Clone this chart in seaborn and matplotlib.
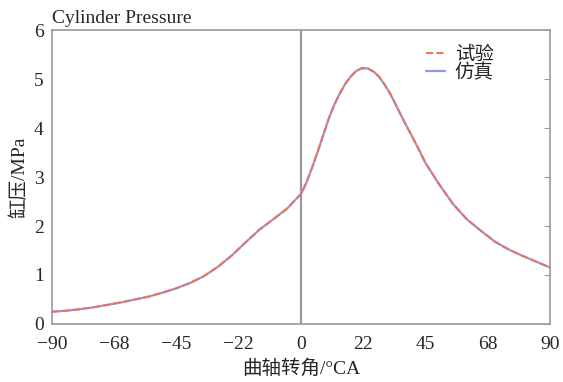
import matplotlib
matplotlib.use("Agg")
import matplotlib.pyplot as plt
import seaborn as sns
import pandas as pd

# Crank angle (deg CA) and cylinder pressure (MPa)
crank_angle = [-90, -85, -80, -75, -70, -65, -60, -55, -50, -45, -40, -35, -30,
               -25, -20, -15, -10, -5, 0, 2, 4, 6, 8, 10, 12, 14, 16, 18, 20,
               22, 24, 26, 28, 30, 32, 34, 36, 38, 40, 42, 45, 50, 55, 60, 65,
               70, 75, 80, 85, 90]
p_test = [0.25, 0.27, 0.30, 0.34, 0.39, 0.44, 0.50, 0.56, 0.64, 0.73, 0.84,
          0.98, 1.17, 1.40, 1.67, 1.93, 2.14, 2.36, 2.66, 2.90, 3.20, 3.52,
          3.86, 4.20, 4.48, 4.71, 4.91, 5.06, 5.17, 5.23, 5.22, 5.16, 5.06,
          4.90, 4.72, 4.50, 4.27, 4.05, 3.84, 3.62, 3.28, 2.84, 2.44, 2.13,
          1.90, 1.68, 1.52, 1.39, 1.27, 1.15]
p_sim = [0.25, 0.27, 0.30, 0.34, 0.39, 0.44, 0.50, 0.56, 0.64, 0.73, 0.84,
         0.98, 1.17, 1.40, 1.67, 1.93, 2.14, 2.36, 2.66, 2.90, 3.20, 3.52,
         3.86, 4.20, 4.48, 4.71, 4.91, 5.06, 5.17, 5.22, 5.22, 5.16, 5.06,
         4.90, 4.72, 4.50, 4.27, 4.05, 3.84, 3.62, 3.28, 2.84, 2.44, 2.13,
         1.90, 1.68, 1.52, 1.39, 1.27, 1.15]

x_ticks = [-90, -67.5, -45, -22.5, 0, 22.5, 45, 67.5, 90]
x_tick_labels = ["\u221290", "\u221268", "\u221245", "\u221222", "0", "22", "45", "68", "90"]
y_ticks = [0, 1, 2, 3, 4, 5, 6]

sns.set_style("white")
plt.rcParams["font.family"] = ["Liberation Serif", "Noto Sans CJK SC"]

df = pd.DataFrame({
    "angle": crank_angle * 2,
    "p": p_sim + p_test,
    "kind": ["仿真"] * len(crank_angle) + ["试验"] * len(crank_angle),
})

fig = plt.figure(figsize=(5.63, 3.82), dpi=100)
ax = fig.add_axes([0.0924, 0.152, 0.885, 0.769])

ax.axvline(0, color="#9a9a9a", lw=1.6, zorder=1)

sns.lineplot(data=df[df.kind == "仿真"], x="angle", y="p", ax=ax,
             color="#8f98e3", lw=1.6, label="仿真", zorder=2)
sns.lineplot(data=df[df.kind == "试验"], x="angle", y="p", ax=ax,
             color="#f0404a", lw=1.4, dashes=(3, 3), linestyle="--",
             label="试验", zorder=3)

ax.set_xlim(-90, 90)
ax.set_ylim(0, 6)
ax.set_xticks(x_ticks)
ax.set_xticklabels(x_tick_labels)
ax.set_yticks(y_ticks)

for s in ax.spines.values():
    s.set_color("#9a9a9a")
    s.set_linewidth(1.2)

ax.tick_params(axis="y", direction="in", length=4, color="#9a9a9a",
               right=True, labelsize=14, pad=6)
ax.tick_params(axis="x", length=0, labelsize=14, pad=9)

ax.set_xlabel("曲轴转角/°CA", fontsize=14, labelpad=4)
ax.set_ylabel("缸压/MPa", fontsize=14, labelpad=4)
ax.set_title("Cylinder Pressure", loc="left", fontsize=14, pad=5, x=0.0)

h, l = ax.get_legend_handles_labels()
order = [l.index("试验"), l.index("仿真")]
h[l.index("试验")].set_color("#f4704f")
ax.legend([h[i] for i in order], [l[i] for i in order], loc="upper right",
          bbox_to_anchor=(0.91, 0.985), frameon=False, fontsize=14,
          handlelength=1.0, handletextpad=0.5, labelspacing=0.0,
          borderaxespad=0.2)

fig.savefig("out.png", dpi=100)
